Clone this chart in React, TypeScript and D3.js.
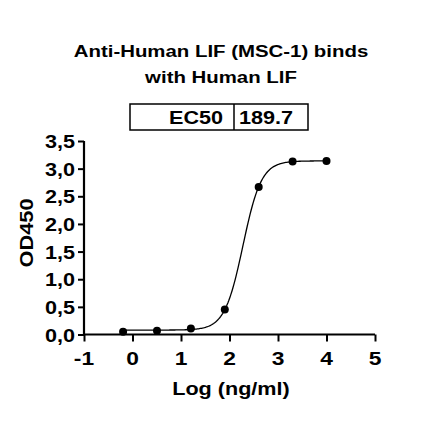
import React, { useEffect, useRef } from 'react';
import * as d3 from 'd3';

// Measured points (log ng/ml vs OD450)
const logConc = [-0.194, 0.505, 1.204, 1.903, 2.602, 3.301, 4.0];
const od450 = [0.05, 0.07, 0.11, 0.45, 2.67, 3.13, 3.14];

// 4PL fit parameters
const fitBottom = 0.08;
const fitTop = 3.14;
const fitLogEC50 = Math.log10(189.7);
const fitHill = 2.3;

const xTicks = [-1, 0, 1, 2, 3, 4, 5];
const yTicks = [0, 0.5, 1, 1.5, 2, 2.5, 3, 3.5];
const titleLines = ['Anti-Human LIF (MSC-1) binds', 'with Human LIF'];
const tableCells = ['EC50', '189.7'];

const FONT = "Arial, 'Liberation Sans', Helvetica, sans-serif";
// the original font runs wider than Arial bold
const STRETCH = 1.2;

type G = d3.Selection<SVGGElement | SVGSVGElement, unknown, null, undefined>;

const addText = (
  g: G,
  x: number,
  y: number,
  txt: string,
  size: number,
  anchor: string,
  rotate = 0,
  sx = STRETCH
) =>
  g
    .append('text')
    .attr('transform', `translate(${x},${y}) rotate(${rotate}) scale(${sx},1)`)
    .attr('text-anchor', anchor)
    .attr('fill', '#000')
    .style('font-family', FONT)
    .style('font-weight', 'bold')
    .style('font-size', `${size}px`)
    .text(txt);

const App: React.FC = () => {
  const svgRef = useRef<SVGSVGElement>(null);

  useEffect(() => {
    if (!svgRef.current) return;
    const width = 440;
    const height = 441;
    const svg = d3.select(svgRef.current).attr('width', width).attr('height', height);
    svg.selectAll('*').remove();

    svg.append('rect').attr('width', width).attr('height', height).attr('fill', '#fff');
    const root = svg as unknown as G;

    const x = d3.scaleLinear().domain([-1, 5]).range([84, 375]);
    const y = d3.scaleLinear().domain([0, 3.5]).range([334.5, 141]);

    // Title
    titleLines.forEach((t, i) => addText(root, 221, 57 + i * 26, t, 17, 'middle'));

    // EC50 table
    const table = svg.append('g');
    table
      .append('rect')
      .attr('x', 130)
      .attr('y', 104)
      .attr('width', 178)
      .attr('height', 26)
      .attr('fill', 'none')
      .attr('stroke', '#000')
      .attr('stroke-width', 1.5);
    table
      .append('line')
      .attr('x1', 234)
      .attr('x2', 234)
      .attr('y1', 104)
      .attr('y2', 130)
      .attr('stroke', '#000')
      .attr('stroke-width', 1.5);
    addText(table as unknown as G, 223, 124, tableCells[0], 18, 'end');
    addText(table as unknown as G, 239, 124, tableCells[1], 18, 'start');

    // Axes (tick lines from d3, labels drawn separately)
    const yAxis = svg
      .append('g')
      .attr('transform', `translate(${x(-1)},0)`)
      .call(d3.axisLeft(y).tickValues(yTicks).tickSize(6).tickFormat(() => ''));
    const xAxis = svg
      .append('g')
      .attr('transform', `translate(0,${y(0)})`)
      .call(d3.axisBottom(x).tickValues(xTicks).tickSize(7).tickFormat(() => ''));

    [xAxis, yAxis].forEach((ax) => {
      ax.select('.domain').attr('stroke', '#000').attr('stroke-width', 2.2);
      ax.selectAll('.tick line').attr('stroke', '#000').attr('stroke-width', 2);
    });
    yAxis.select('.domain').attr('d', `M0,${y(3.5)}V${y(0)}`);
    xAxis.select('.domain').attr('d', `M${x(-1)},0H${x(5)}`);

    yTicks.forEach((v) =>
      addText(root, 75, y(v) + 7, d3.format('.1f')(v).replace('.', ','), 18, 'end')
    );
    xTicks.forEach((v) => addText(root, x(v), 365, String(v), 19, 'middle'));

    // Axis titles
    addText(root, 231, 395, 'Log (ng/ml)', 18, 'middle');
    addText(root, 33, 233, 'OD450', 19, 'middle', -90, 1.15);

    // Fitted curve
    const fit = (lx: number) =>
      fitBottom + (fitTop - fitBottom) / (1 + Math.pow(10, (fitLogEC50 - lx) * fitHill));
    const xMin = d3.min(logConc) as number;
    const xMax = d3.max(logConc) as number;
    const curvePts = d3.range(0, 201).map((i) => xMin + ((xMax - xMin) * i) / 200);
    svg
      .append('path')
      .datum(curvePts)
      .attr('fill', 'none')
      .attr('stroke', '#000')
      .attr('stroke-width', 1.3)
      .attr(
        'd',
        d3
          .line<number>()
          .x((d) => x(d))
          .y((d) => y(fit(d)))
      );

    // Points
    svg
      .selectAll('.point')
      .data(logConc)
      .enter()
      .append('circle')
      .attr('class', 'point')
      .attr('cx', (d) => x(d))
      .attr('cy', (d, i) => y(od450[i]))
      .attr('r', 4)
      .attr('fill', '#000');
  }, []);

  return <svg ref={svgRef} style={{ display: 'block', position: 'absolute', left: 0, top: 0 }} />;
};

export default App;
